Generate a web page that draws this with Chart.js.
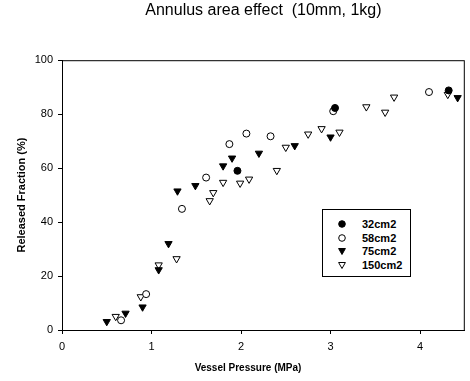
<!DOCTYPE html>
<html>
<head>
<meta charset="utf-8">
<script src="https://cdn.jsdelivr.net/npm/chart.js@4"></script>
<style>
body{margin:0;background:#fff}
#wrap{position:relative;width:470px;height:381px}
#legend{position:absolute;left:322px;top:209px;width:87px;height:66px;border:1px solid #000;background:#fff;font:bold 11px "Liberation Sans",Arial,sans-serif;color:#000}
#legend .row{position:absolute;left:0;height:14px;line-height:14px}
#legend svg{position:absolute;left:15px;top:3px}
#legend span{position:absolute;left:39px;white-space:nowrap}
#xtitle{position:absolute;left:148px;width:200px;top:361px;text-align:center;font:bold 10px "Liberation Sans",Arial,sans-serif;color:#000;line-height:14px}
</style>
</head>
<body>
<div id="wrap">
<canvas id="chart" width="470" height="381"></canvas>
<div id="legend"></div>
<div id="xtitle"></div>
</div>
<script>

const FONT="'Liberation Sans', Arial, sans-serif"

const seriesNames=["32cm2","58cm2","75cm2","150cm2"]
const xTitle="Vessel Pressure (MPa)"
const yTitle="Released Fraction (%)"

// vessel pressure (MPa), released fraction (%)
const p32=[1.96,3.05,4.32]
const r32=[59,82.3,88.8]

const p58=[0.66,0.94,1.34,1.61,1.87,2.06,2.33,3.03,4.10]
const r58=[3.6,13.3,44.9,56.5,68.9,72.8,71.8,81.1,88.2]

const p75=[0.50,0.71,0.90,1.08,1.19,1.29,1.49,1.80,1.90,2.20,2.60,3.00,4.42]
const r75=[3.1,6.2,8.5,22.3,32,51.5,53.5,60.8,63.7,65.5,68.3,71.5,86.1]

const p150=[0.60,0.88,1.08,1.28,1.65,1.69,1.80,1.99,2.09,2.40,2.50,2.75,2.90,3.10,3.40,3.61,3.71,4.31]
const r150=[5,12.3,24.1,26.4,47.9,50.9,54.7,54.4,55.9,59.1,67.7,72.6,74.6,73.3,82.7,80.7,86.3,87.3]

const xTicks=[0,1,2,3,4]
const yTicks=[0,20,40,60,80,100]

function pts(xs,ys){
return xs.map((x,i)=>({x:x,y:ys[i]}))
}

const styles=[
{pointStyle:"circle",radius:3.5,fill:"#000",rot:0},
{pointStyle:"circle",radius:3.5,fill:"#fff",rot:0},
{pointStyle:"triangle",radius:4.2,fill:"#000",rot:180},
{pointStyle:"triangle",radius:4.2,fill:"#fff",rot:180}
]

const values=[pts(p32,r32),pts(p58,r58),pts(p75,r75),pts(p150,r150)]

const datasets=seriesNames.map((name,i)=>({
label:name,
data:values[i],
pointStyle:styles[i].pointStyle,
pointRadius:styles[i].radius,
pointRotation:styles[i].rot,
pointBackgroundColor:styles[i].fill,
pointBorderColor:"#000",
pointBorderWidth:1,
showLine:false
}))

// frame around the plot area
const framePlugin={
id:"frame",
afterDraw(chart){
const a=chart.chartArea
const ctx=chart.ctx
ctx.save()
ctx.strokeStyle="#000"
ctx.lineWidth=1
ctx.strokeRect(a.left+0.5,a.top+0.5,a.right-a.left-1,a.bottom-a.top)
ctx.restore()
}
}

new Chart(document.getElementById("chart"),{
type:"scatter",
data:{datasets:datasets},
plugins:[framePlugin],
options:{
responsive:false,
animation:false,
layout:{padding:{right:5,left:0,top:0,bottom:0}},
plugins:{
legend:{display:false},
tooltip:{enabled:false},
title:{
display:true,
fullSize:false,
text:"Annulus area effect  (10mm, 1kg)",
color:"#000",
font:{family:FONT,size:16,weight:"normal",lineHeight:1.2},
padding:{top:1,bottom:40}
}
},
scales:{
x:{
type:"linear",
min:0,
max:4.5,
afterFit(s){s.height=51},
afterBuildTicks(s){s.ticks=xTicks.map(v=>({value:v}))},
grid:{drawOnChartArea:false,drawTicks:true,tickLength:4,color:"#000"},
border:{color:"#000"},
ticks:{color:"#000",padding:6,font:{family:FONT,size:11}},
title:{display:false}
},
y:{
type:"linear",
min:0,
max:100,
afterFit(s){s.width=62},
afterBuildTicks(s){s.ticks=yTicks.map(v=>({value:v}))},
grid:{drawOnChartArea:false,drawTicks:true,tickLength:4,color:"#000"},
border:{color:"#000"},
ticks:{color:"#000",padding:5,font:{family:FONT,size:11}},
title:{display:true,text:yTitle,color:"#000",font:{family:FONT,size:11,weight:"bold"},padding:{top:15,bottom:0}}
}
}
}
})

document.getElementById("xtitle").textContent=xTitle

// legend box inside the plot, built from the datasets
const legend=document.getElementById("legend")
datasets.forEach((d,i)=>{
const row=document.createElement("div")
row.className="row"
row.style.top=(7+i*13.6)+"px"
row.style.width="87px"
const s=styles[i]
let shape
if(s.pointStyle==="circle"){
shape=`<circle cx="4" cy="4" r="3.3" fill="${s.fill}" stroke="#000" stroke-width="1"/>`
}else{
shape=`<polygon points="0.6,1.5 7.4,1.5 4,7.5" fill="${s.fill}" stroke="#000" stroke-width="1"/>`
}
row.innerHTML=`<svg width="8" height="9" viewBox="0 0 8 9">${shape}</svg><span>${d.label}</span>`
legend.appendChild(row)
})

</script>
</body>
</html>
